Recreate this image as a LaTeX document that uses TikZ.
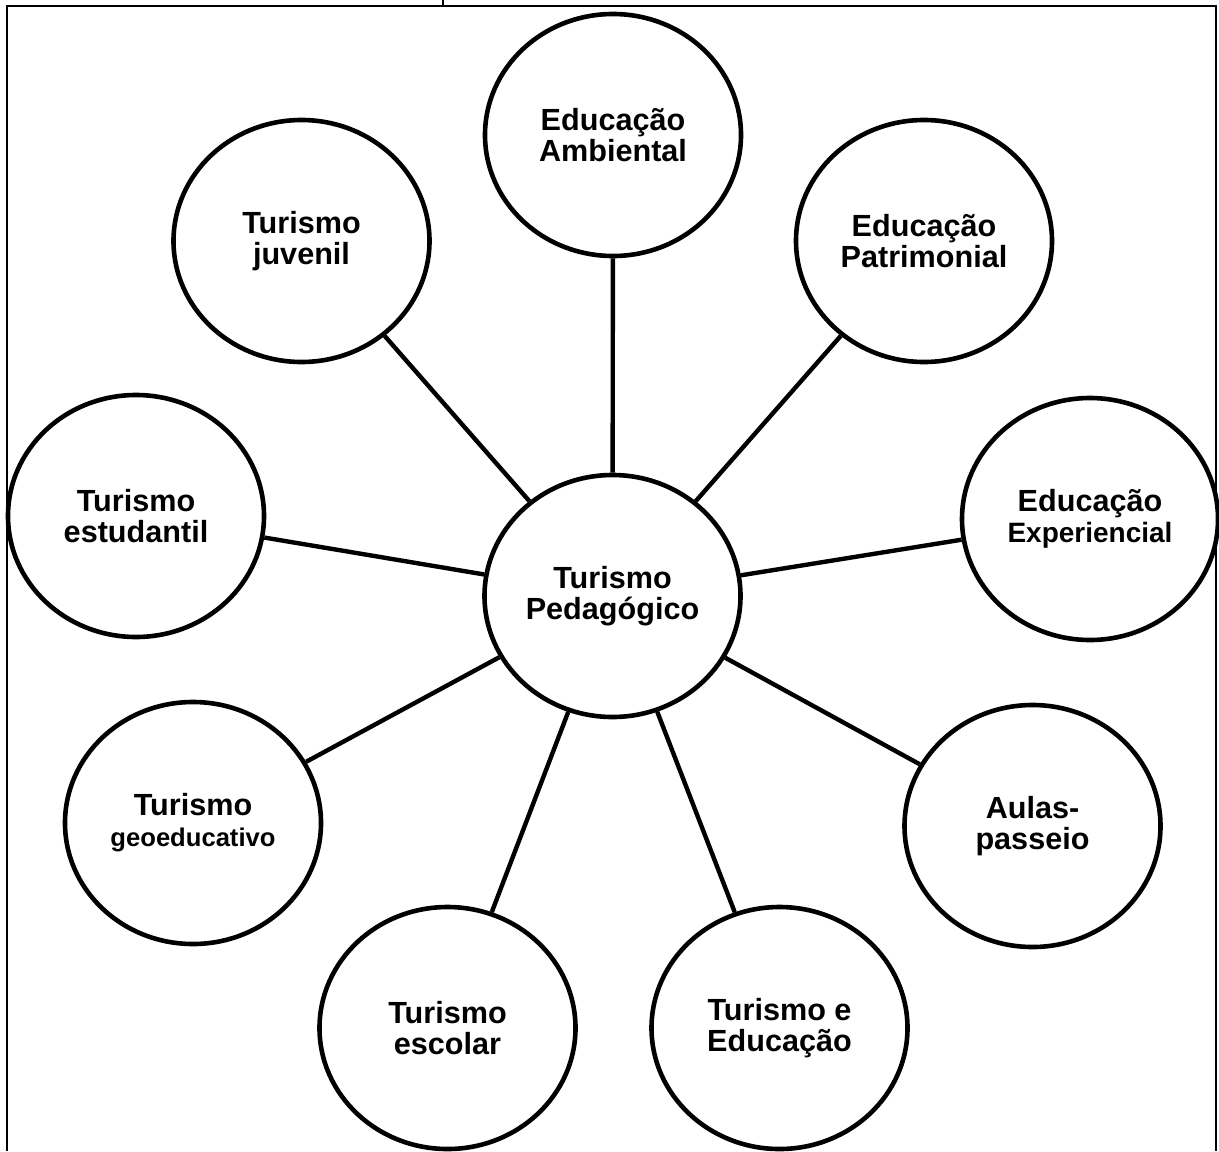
\documentclass[tikz,border=0pt]{standalone}
\usepackage{fontspec}
\setmainfont{Liberation Sans}
\usetikzlibrary{shapes.geometric}
\begin{document}
\begin{tikzpicture}[x=0.5pt,y=-0.5pt,
  bub/.style={ellipse,draw=black,line width=2.3pt,fill=white,inner sep=0pt,
    minimum width=128pt,minimum height=121pt,align=center,
    font=\bfseries\fontsize{15.3}{15.5}\selectfont},
  link/.style={draw=black,line width=2.2pt},
  frame/.style={draw=black,line width=1.3pt}]
\useasboundingbox[fill=white] (0,0) rectangle (1219,1151);
% frame
\coordinate (tl) at (7,6);
\coordinate (tr) at (1216,6);
\coordinate (bl) at (7,1151);
\coordinate (br) at (1216,1151);
\coordinate (tick0) at (443,0);
\coordinate (tick1) at (443,6);
\draw[frame] (bl) -- (tl) -- (tr) -- (br);
\draw[black,line width=0.6pt] (tick0) -- (tick1);
% nodes
\node[bub] (c)   at (612.5,596) {Turismo\\Pedagógico};
\node[bub] (amb) at (613,135) {Educação\\Ambiental};
\node[bub] (pat) at (924,241) {Educação\\Patrimonial};
\node[bub] (exp) at (1090,519) {Educação\\{\fontsize{14}{14}\selectfont Experiencial}};
\node[bub] (aul) at (1032.5,826) {Aulas-\\passeio};
\node[bub] (ted) at (779.5,1028) {Turismo e\\Educação};
\node[bub] (esc) at (447.5,1028) {Turismo\\escolar};
\node[bub] (geo) at (193,823) {Turismo\\{\fontsize{12.8}{13}\selectfont geoeducativo}};
\node[bub] (est) at (136,516) {Turismo\\estudantil};
\node[bub] (juv) at (301.5,241) {Turismo\\juvenil};
% connectors
\foreach \n in {amb,pat,exp,aul,ted,esc,geo,est,juv}
  \draw[link] (c) -- (\n);
\end{tikzpicture}
\end{document}
